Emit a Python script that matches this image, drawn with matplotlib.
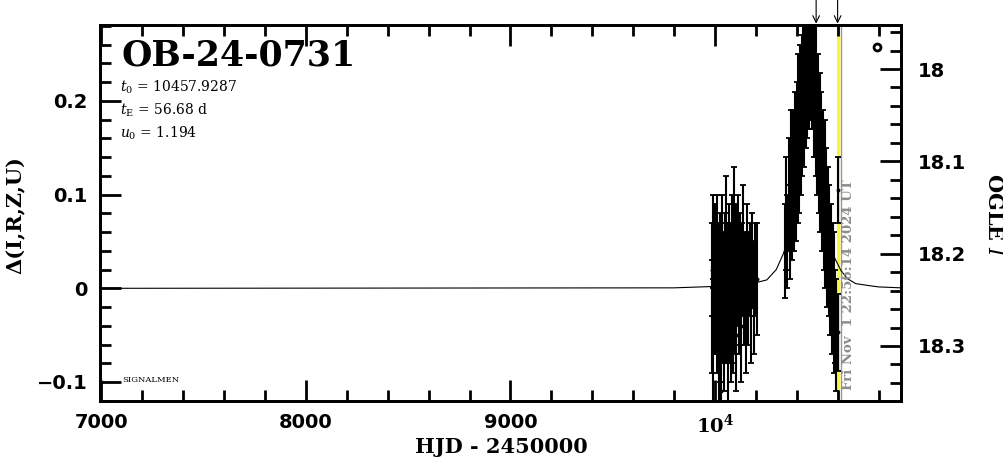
import matplotlib
matplotlib.use('Agg')
import matplotlib.pyplot as plt
from matplotlib.ticker import MultipleLocator, FixedLocator

plt.rcParams['mathtext.fontset'] = 'dejavuserif'

# baseline season (HJD - 2450000, delta mag, error)
base_hjd = [9984, 9987, 9990, 9993, 9996, 9999, 10002, 10005, 10008, 10011,
            10014, 10017, 10020, 10023, 10026, 10029, 10032, 10035, 10038, 10041,
            10044, 10047, 10050, 10053, 10056, 10059, 10062, 10065, 10068, 10071,
            10074, 10077, 10080, 10083, 10086, 10089, 10092, 10095, 10098, 10101,
            10105, 10109, 10113, 10117, 10121, 10125, 10129, 10133, 10138, 10143,
            10148, 10153, 10158, 10164, 10170, 10176, 10183, 10190, 10197, 10205]
base_dmag = [0.02, -0.03, 0.05, -0.06, 0.00, 0.03, -0.02, 0.01, -0.04, 0.04,
             -0.01, 0.02, -0.09, 0.03, -0.03, 0.00, -0.11, 0.05, -0.02, 0.01,
             -0.05, 0.03, 0.00, -0.03, 0.06, -0.01, -0.07, 0.02, -0.02, 0.04,
             0.00, -0.04, 0.02, -0.01, 0.05, -0.03, 0.01, 0.07, -0.02, 0.03,
             -0.05, 0.01, 0.04, -0.02, 0.00, 0.03, -0.04, 0.02, 0.05, -0.01,
             0.01, -0.03, 0.04, 0.00, 0.02, -0.02, 0.03, -0.01, 0.02, 0.01]
base_err = [0.05, 0.06, 0.05, 0.07, 0.05, 0.06, 0.05, 0.06, 0.05, 0.06,
            0.06, 0.05, 0.06, 0.05, 0.07, 0.05, 0.06, 0.05, 0.06, 0.05,
            0.06, 0.05, 0.07, 0.05, 0.06, 0.05, 0.06, 0.05, 0.06, 0.05,
            0.05, 0.06, 0.05, 0.07, 0.05, 0.06, 0.05, 0.06, 0.05, 0.06,
            0.06, 0.05, 0.06, 0.05, 0.06, 0.05, 0.06, 0.05, 0.06, 0.05,
            0.05, 0.06, 0.05, 0.06, 0.05, 0.06, 0.05, 0.06, 0.05, 0.06]

# event season
peak_hjd = [10342, 10348, 10354, 10360, 10366, 10372, 10377, 10382, 10387, 10392,
            10396, 10400, 10404, 10408, 10412, 10416, 10420, 10424, 10428, 10432,
            10436, 10440, 10444, 10448, 10452, 10456, 10460, 10464, 10468, 10472,
            10476, 10480, 10484, 10488, 10492, 10496, 10500, 10504, 10508, 10512,
            10516, 10520, 10524, 10528, 10532, 10536, 10540, 10544, 10548, 10552,
            10556, 10560, 10564, 10568, 10572, 10576, 10580, 10584, 10588, 10592,
            10600, 10602]
peak_dmag = [0.04, 0.08, 0.05, 0.10, 0.06, 0.12, 0.08, 0.13, 0.09, 0.15,
             0.10, 0.16, 0.12, 0.18, 0.13, 0.20, 0.15, 0.21, 0.17, 0.23,
             0.18, 0.24, 0.20, 0.25, 0.21, 0.26, 0.22, 0.25, 0.23, 0.26,
             0.22, 0.24, 0.19, 0.23, 0.17, 0.21, 0.15, 0.19, 0.13, 0.17,
             0.11, 0.15, 0.09, 0.13, 0.07, 0.11, 0.05, 0.09, 0.03, 0.07,
             0.02, 0.05, 0.00, 0.03, -0.02, 0.01, -0.04, 0.00, -0.03, -0.05,
             0.105, -0.047]
peak_err = [0.05, 0.06, 0.05, 0.06, 0.05, 0.07, 0.05, 0.06, 0.05, 0.06,
            0.05, 0.06, 0.05, 0.07, 0.05, 0.06, 0.05, 0.06, 0.05, 0.07,
            0.05, 0.06, 0.05, 0.06, 0.05, 0.06, 0.05, 0.06, 0.05, 0.06,
            0.05, 0.06, 0.05, 0.06, 0.05, 0.07, 0.05, 0.06, 0.05, 0.06,
            0.05, 0.06, 0.05, 0.06, 0.05, 0.07, 0.05, 0.06, 0.05, 0.06,
            0.05, 0.06, 0.05, 0.06, 0.05, 0.06, 0.05, 0.06, 0.05, 0.06,
            0.035, 0.041]

# model curve
model_hjd = [7000, 9800, 10000, 10100, 10200, 10254, 10300, 10341, 10370, 10400,
             10430, 10458, 10490, 10520, 10550, 10580, 10616, 10650, 10689, 10750,
             10800, 10910]
model_dmag = [0.0, 0.0005, 0.002, 0.003, 0.006, 0.009, 0.02, 0.04, 0.07, 0.12,
              0.19, 0.226, 0.17, 0.11, 0.065, 0.035, 0.019, 0.01, 0.005, 0.003,
              0.0015, 0.0005]

event = 'OB-24-0731'
t0 = '10457.9287'
tE = '56.68'
u0 = '1.194'
now_hjd = 10616
season_hjd = 10600
arrow_hjd = [10495, 10600]
stamp = 'Fri Nov  1 22:56:14 2024 UT'

fig = plt.figure(figsize=(10.04, 4.59), dpi=100)
ax = fig.add_axes([100/1004, 58/459, 801/1004, 376/459])
ax.set_xlim(6993, 10910)
ax.set_ylim(-0.1203, 0.2811)

ax.axvline(season_hjd, color='#ffff00', lw=2.2, zorder=1)
ax.axvline(now_hjd, color='#999999', lw=1.0, zorder=1)

ax.plot(model_hjd, model_dmag, color='k', lw=0.8, zorder=2)
for h, d, e in [(base_hjd, base_dmag, base_err), (peak_hjd, peak_dmag, peak_err)]:
    ax.errorbar(h, d, yerr=e, fmt='o', ms=1.8, color='k', ecolor='k',
                elinewidth=1.5, capsize=2, capthick=1.3, zorder=3)
ax.plot([10792], [0.2577], 'o', ms=5, mfc='none', mec='k', mew=2)

for xa in arrow_hjd:
    ax.annotate('', xy=(xa, 0.2811), xytext=(xa, 0.2811 + 0.027),
                xycoords='data', annotation_clip=False,
                arrowprops=dict(arrowstyle='->', color='k', lw=0.8,
                                mutation_scale=12, shrinkA=0, shrinkB=1))

for s in ax.spines.values():
    s.set_linewidth(2)

ax.xaxis.set_major_locator(FixedLocator([7000, 8000, 9000, 10000]))
ax.set_xticklabels(['7000', '8000', '9000', r'$\mathbf{10^4}$'])
ax.xaxis.set_minor_locator(MultipleLocator(200))
ax.yaxis.set_major_locator(FixedLocator([-0.1, 0, 0.1, 0.2]))
ax.set_yticklabels(['\u22120.1', '0', '0.1', '0.2'])
ax.yaxis.set_minor_locator(MultipleLocator(0.02))
ax.tick_params(which='both', direction='in', top=True, right=False, width=2)
ax.tick_params(which='major', length=15, pad=9)
ax.tick_params(which='minor', length=8)
for lab in ax.get_xticklabels() + ax.get_yticklabels():
    lab.set_fontsize(14)
    lab.set_fontweight('bold')
    lab.set_family('DejaVu Sans')

ax2 = ax.twinx()
ax2.set_ylim(18.3596, 17.9523)
ax2.yaxis.set_major_locator(FixedLocator([18.0, 18.1, 18.2, 18.3]))
ax2.set_yticklabels(['18', '18.1', '18.2', '18.3'])
ax2.yaxis.set_minor_locator(MultipleLocator(0.02))
ax2.tick_params(which='both', direction='in', width=2)
ax2.tick_params(which='major', length=15, pad=12)
ax2.tick_params(which='minor', length=8)
for lab in ax2.get_yticklabels():
    lab.set_fontsize(14)
    lab.set_fontweight('bold')
    lab.set_family('DejaVu Sans')
for s in ax2.spines.values():
    s.set_linewidth(2)

ax.text(10655, -0.1085, stamp, rotation=90, ha='center', va='bottom',
        color='#8c8c8c', fontsize=9.5, family='DejaVu Serif', fontweight='bold')

ax.text(0.027, 0.918, event, transform=ax.transAxes, fontsize=25,
        family='DejaVu Serif', fontweight='bold', va='center', ha='left')
ax.text(0.025, 0.833, r'$t_0$ = ' + t0, transform=ax.transAxes, fontsize=10,
        family='DejaVu Serif', va='center')
ax.text(0.025, 0.773, r'$t_{\rm E}$ = ' + tE + ' d', transform=ax.transAxes,
        fontsize=10, family='DejaVu Serif', va='center')
ax.text(0.025, 0.713, r'$u_0$ = ' + u0, transform=ax.transAxes, fontsize=10,
        family='DejaVu Serif', va='center')
ax.text(0.028, 0.057, 'SIGNALMEN', transform=ax.transAxes, fontsize=6,
        family='DejaVu Serif', va='center')

fig.text(16/1004, 1 - 215/459, '\u0394(I,R,Z,U)', rotation=90, ha='center',
         va='center', fontsize=15, family='DejaVu Serif', fontweight='bold')
fig.text(994/1004, 1 - 215/459, r'OGLE $I$', rotation=270, ha='center',
         va='center', fontsize=15, family='DejaVu Serif', fontweight='bold')
fig.text(501/1004, 1 - 447/459, 'HJD - 2450000', ha='center', va='center',
         fontsize=15, family='DejaVu Serif', fontweight='bold')

fig.savefig('out.png', dpi=100)
